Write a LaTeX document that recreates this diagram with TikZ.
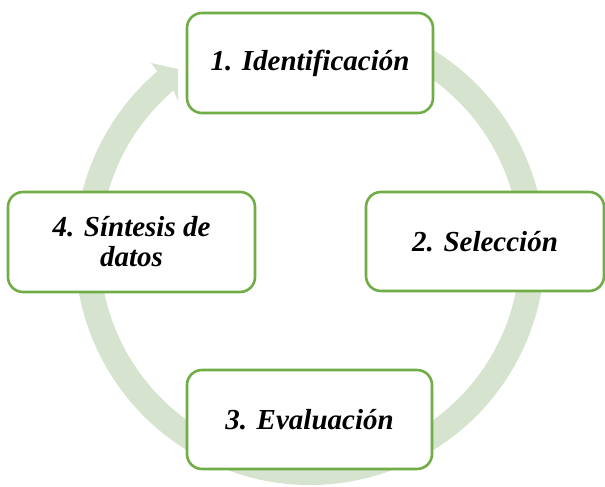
\documentclass[tikz,border=0pt]{standalone}
\usepackage{fontspec}
\setmainfont{Liberation Serif}
\definecolor{boxgreen}{HTML}{70AD47}
\definecolor{ringgreen}{RGB}{214,227,206}
\begin{document}
\begin{tikzpicture}[x=1pt,y=1pt,
  stepbox/.style={draw=boxgreen, line width=2.6pt, fill=white, rounded corners=15pt,
    inner sep=0pt, align=center, font=\fontsize{29}{30}\selectfont\bfseries\itshape},
  ring/.style={fill=ringgreen}]
\useasboundingbox (0,0) rectangle (605,487);
\fill[ring] ([shift={(310,237)}]60:235) arc[start angle=60, end angle=-229.5, radius=235]
  -- (151,424) -- (178,418) -- (178,386)
  -- ([shift={(310,237)}]-229.5:210) arc[start angle=-229.5, end angle=60, radius=210] -- cycle;
\node[stepbox, minimum width=246pt, minimum height=100pt] (s1) at (310,424) {1. Identificación};
\node[stepbox, minimum width=238pt, minimum height=99pt] (s2) at (485,245.5) {2. Selección};
\node[stepbox, minimum width=245pt, minimum height=99pt] (s3) at (309.5,67.5) {3. Evaluación};
\node[stepbox, minimum width=247pt, minimum height=100pt] (s4) at (131.5,245) {4. Síntesis de\\datos};
\end{tikzpicture}
\end{document}
